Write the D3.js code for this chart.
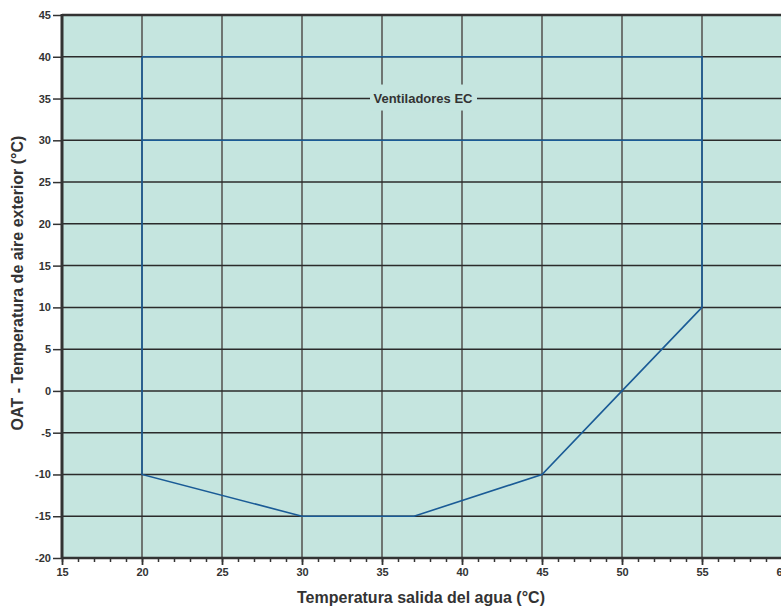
<!DOCTYPE html>
<html>
<head>
<meta charset="utf-8">
<script src="https://cdn.jsdelivr.net/npm/d3@7"></script>
<style>
body { margin: 0; background: #fff; }
text { font-family: "Liberation Sans", Arial, sans-serif; font-weight: bold; fill: #333; }
</style>
</head>
<body>
<div class="content"></div>
<script>
// operating envelope, (water temp, OAT)
var envX = [20, 55, 55, 50, 45, 37, 30, 20, 20];
var envY = [40, 40, 10, 0, -10, -15, -15, -10, 40];
var innerX = [20, 55];
var innerY = [30, 30];
var xTicks = [15, 20, 25, 30, 35, 40, 45, 50, 55, 60];
var yTicks = [45, 40, 35, 30, 25, 20, 15, 10, 5, 0, -5, -10, -15, -20];
var areaLabel = "Ventiladores EC";
var xTitle = "Temperatura salida del agua (°C)";
var yTitle = "OAT - Temperatura de aire exterior (°C)";

var margin = {top: 15, left: 62},
    width = 720,
    height = 543;

var x = d3.scaleLinear().domain([15, 60]).range([0, width]);
var y = d3.scaleLinear().domain([-20, 45]).range([height, 0]);
var fmt = function(d){ return String(d); };  // plain hyphen minus

var svg = d3.select('.content').append("svg").attr("width", 781).attr("height", 606);
var g = svg.append("g").attr("transform", "translate(" + margin.left + "," + margin.top + ")");

g.append("rect").attr("width", width).attr("height", height).attr("fill", "#c5e5df");

// grid
g.selectAll(".vgrid").data(xTicks.slice(1)).enter().append("line")
  .attr("x1", function(d){return x(d);}).attr("x2", function(d){return x(d);})
  .attr("y1", 0).attr("y2", height)
  .attr("stroke", "#6f7572").attr("stroke-width", 2);
g.selectAll(".hgrid").data(yTicks.slice(1, -1)).enter().append("line")
  .attr("x1", 0).attr("x2", width)
  .attr("y1", function(d){return y(d);}).attr("y2", function(d){return y(d);})
  .attr("stroke", "#2b2b2b").attr("stroke-width", 1.5);

// envelope
var pts = envX.map(function(d, i){return [d, envY[i]];});
var line = d3.line().x(function(d){return x(d[0]);}).y(function(d){return y(d[1]);});
g.append("path").datum(pts).attr("d", line).attr("fill", "none")
  .attr("stroke", "#1a5b96").attr("stroke-width", 1.6);
g.append("path").datum(innerX.map(function(d, i){return [d, innerY[i]];})).attr("d", line)
  .attr("fill", "none").attr("stroke", "#1a5b96").attr("stroke-width", 1.6);

// label with box over the grid
var lx = 423 - margin.left, ly = y(35);
g.append("rect").attr("x", lx - 53).attr("y", ly - 14)
  .attr("width", 107).attr("height", 26).attr("fill", "#c5e5df");
g.append("text").attr("x", lx).attr("y", ly + 4.5).attr("text-anchor", "middle")
  .style("font-size", "13px").text(areaLabel);

// frame
g.append("line").attr("x1", 0).attr("x2", width).attr("y1", 0).attr("y2", 0)
  .attr("stroke", "#333").attr("stroke-width", 2.5);

// axes
var xa = g.append("g").attr("transform", "translate(0," + height + ")")
  .call(d3.axisBottom(x).tickValues(d3.range(15, 61, 1)).tickSize(4).tickFormat(""));
xa.selectAll("line").attr("stroke", "#333").attr("stroke-width", 1.5);
var xb = g.append("g").attr("transform", "translate(0," + height + ")")
  .call(d3.axisBottom(x).tickValues(xTicks).tickSize(7).tickPadding(3).tickFormat(fmt));
xb.selectAll("line").attr("stroke", "#333").attr("stroke-width", 1.8);
xb.selectAll("text").style("font-size", "11px").attr("fill", "#333");
g.selectAll(".domain").remove();
g.append("line").attr("x1", 0).attr("x2", width).attr("y1", height).attr("y2", height)
  .attr("stroke", "#333").attr("stroke-width", 2.5);

var ya = g.append("g").call(d3.axisLeft(y).tickValues(yTicks).tickSize(9).tickPadding(2).tickFormat(fmt));
ya.select(".domain").remove();
ya.selectAll("line").attr("stroke", "#333").attr("stroke-width", 1.5);
ya.selectAll("text").style("font-size", "11px").attr("fill", "#333");
g.append("line").attr("x1", 0).attr("x2", 0).attr("y1", -1).attr("y2", height + 1)
  .attr("stroke", "#333").attr("stroke-width", 3);

// titles
svg.append("text").attr("x", 421).attr("y", 603).attr("text-anchor", "middle")
  .style("font-size", "16px").text(xTitle);
svg.append("text").attr("transform", "translate(23,283) rotate(-90)").attr("text-anchor", "middle")
  .style("font-size", "16px").text(yTitle);
</script>
</body>
</html>
